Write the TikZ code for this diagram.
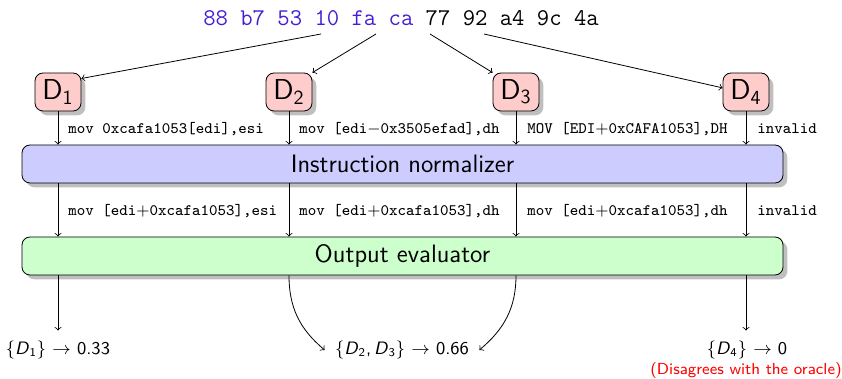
\documentclass[tikz,border=0pt]{standalone}
\usepackage{fontspec}
\usetikzlibrary{shadows}
\definecolor{bytecol}{RGB}{70,30,210}
\begin{document}
\begin{tikzpicture}[x=0.5pt,y=-0.5pt,
  dbox/.style={draw,rounded corners=4pt,fill=red!20,minimum width=23pt,minimum height=19pt,inner sep=1pt,font=\Large\sffamily,drop shadow={opacity=0.5}},
  bigbox/.style={draw,rounded corners=4pt,minimum width=380.5pt,minimum height=19pt,font=\fontsize{12.6}{15}\sffamily,drop shadow={opacity=0.5}},
  code/.style={font=\footnotesize\ttfamily,anchor=west,inner sep=0pt},
  res/.style={font=\small\sffamily,inner sep=5pt},
  arr/.style={->}
]
\useasboundingbox (0,0) rectangle (842,379);
\node[font=\large\ttfamily,inner sep=0pt] (bytes) at (401,18) {\textcolor{bytecol}{88 b7 53 10 fa ca} 77 92 a4 9c 4a};
\coordinate (s1) at (321,34);
\coordinate (s2) at (376,34);
\coordinate (s3) at (430,34);
\coordinate (s4) at (484,34);
\node[dbox] (d1) at (58,92) {D\textsubscript{1}};
\node[dbox] (d2) at (289,92) {D\textsubscript{2}};
\node[dbox] (d3) at (516,92) {D\textsubscript{3}};
\node[dbox] (d4) at (746,92) {D\textsubscript{4}};
\draw[arr] (s1) -- (d1.30);
\draw[arr] (s2) -- (d2.north east);
\draw[arr] (s3) -- (d3.north west);
\draw[arr] (s4) -- (d4.170);
\node[bigbox,fill=blue!20] (norm) at (402.5,164) {Instruction normalizer};
\node[bigbox,fill=green!20] (eval) at (402.5,256) {Output evaluator};
% D -> normalizer
\draw[arr] (d1.south) -- (d1.south |- norm.north);
\draw[arr] (d2.south) -- (d2.south |- norm.north);
\draw[arr] (d3.south) -- (d3.south |- norm.north);
\draw[arr] (d4.south) -- (d4.south |- norm.north);
\node[code] (l1) at (68,129) {mov 0xcafa1053[edi],esi};
\node[code] (l2) at (299,129) {mov [edi$-$0x3505efad],dh};
\node[code] (l3) at (527,129) {MOV [EDI$+$0xCAFA1053],DH};
\node[code] (l4) at (757,129) {invalid};
% normalizer -> evaluator
\draw[arr] (d1.south |- norm.south) -- (d1.south |- eval.north);
\draw[arr] (d2.south |- norm.south) -- (d2.south |- eval.north);
\draw[arr] (d3.south |- norm.south) -- (d3.south |- eval.north);
\draw[arr] (d4.south |- norm.south) -- (d4.south |- eval.north);
\node[code] (m1) at (68,211) {mov [edi$+$0xcafa1053],esi};
\node[code] (m2) at (299,211) {mov [edi$+$0xcafa1053],dh};
\node[code] (m3) at (527,211) {mov [edi$+$0xcafa1053],dh};
\node[code] (m4) at (757,211) {invalid};
% results
\node[res] (r1) at (58,350) {\{\textit{D}\textsubscript{1}\} $\rightarrow$ 0.33};
\node[res] (r2) at (402,350) {\{\textit{D}\textsubscript{2},\,\textit{D}\textsubscript{3}\} $\rightarrow$ 0.66};
\node[res] (r4) at (747,350) {\{\textit{D}\textsubscript{4}\} $\rightarrow$ 0};
\node[font=\footnotesize\sffamily,text=red,inner sep=0pt] (dis) at (746,371) {(Disagrees with the oracle)};
\draw[arr] (d1.south |- eval.south) -- (r1.north -| d1.south);
\draw[arr] (d4.south |- eval.south) -- (r4.north -| d4.south);
\draw[arr] (d2.south |- eval.south) to[out=-90,in=140] (r2.west);
\draw[arr] (d3.south |- eval.south) to[out=-90,in=40] (r2.east);
\end{tikzpicture}
\end{document}
